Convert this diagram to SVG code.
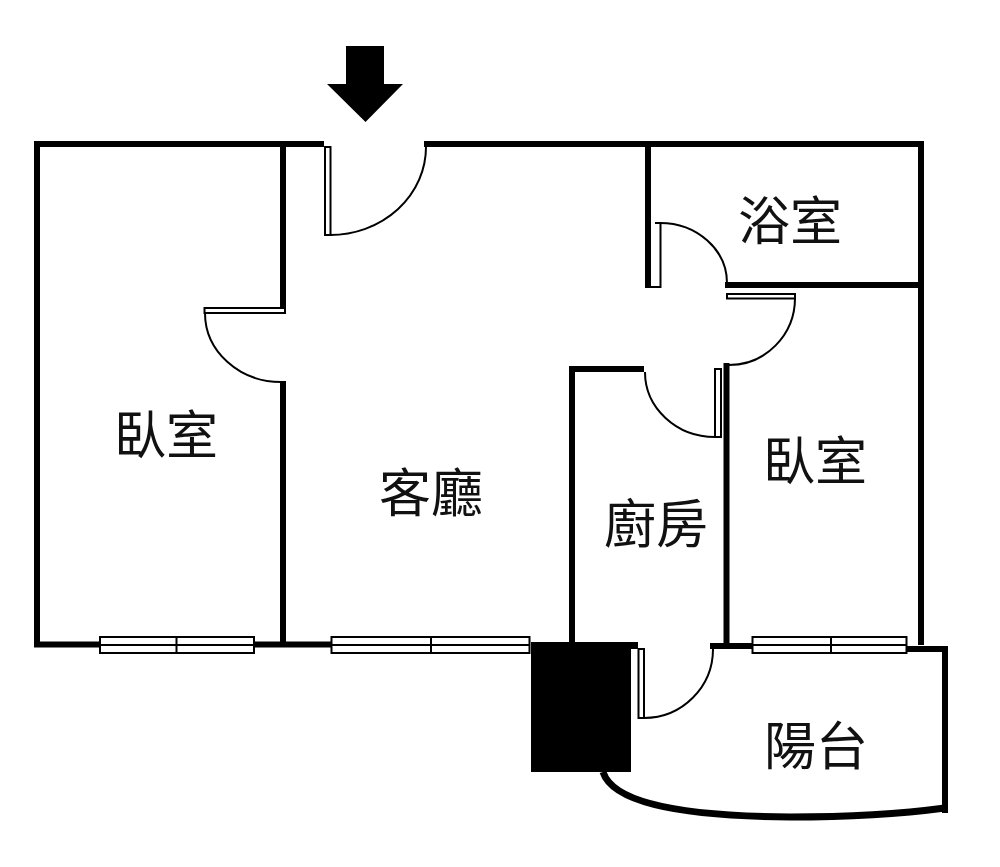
<svg xmlns="http://www.w3.org/2000/svg" width="1000" height="867" viewBox="0 0 1000 867">
<style>
.wall{fill:none;stroke:#000;stroke-width:6;stroke-linecap:butt;stroke-linejoin:miter}
.win{fill:#fff;stroke:#000;stroke-width:2}
.thin{fill:none;stroke:#000;stroke-width:2}
.leaf{fill:#fff;stroke:#000;stroke-width:2}
text{font-family:"Noto Sans CJK TC","Noto Sans CJK JP",sans-serif;font-size:52px;font-weight:400;fill:#111;text-anchor:middle;dominant-baseline:central}
</style>
<rect width="1000" height="867" fill="#fff"/>
<polygon id="entry-arrow" points="346,46 384,46 384,84 403,84 365.5,122 327,84 346,84"/>
<g id="walls">
<path class="wall" d="M324,144H37V644.500H99M254,644.500H331"/>
<path class="wall" d="M283,144V310M283,381V644"/>
<path class="wall" d="M424,144H921V645"/>
<path class="wall" d="M648,144V288"/>
<path class="wall" d="M725,285H921"/>
<path class="wall" d="M726.500,363V645"/>
<path class="wall" d="M644,369H572V645"/>
<path class="wall" d="M710,646H752M907,649H945V813"/>
<rect x="531" y="643" width="100" height="129"/>
<rect x="531" y="642" width="107" height="7"/>
<path d="M603,772C612,800 670,816 790,817C850,817 900,814 945,808" fill="none" stroke="#000" stroke-width="7"/>
</g>
<g id="doors">
<rect class="leaf" x="325" y="147" width="5.500" height="88"/>
<path class="thin" d="M330,235A96,88 0 0 0 426,147"/>
<path class="leaf" d="M204.500,308H285V313H204.500Z"/>
<path class="thin" d="M205,313A76,69 0 0 0 281,382"/>
<path class="leaf" d="M655,223H660.500V287H651"/>
<path class="thin" d="M660,223A67,60 0 0 1 727,283"/>
<path class="leaf" d="M727,294H795V298.500H727Z"/>
<path class="thin" d="M795,298A66,67 0 0 1 729,365"/>
<rect class="leaf" x="715" y="369" width="6" height="68"/>
<path class="thin" d="M715,437A70,65 0 0 1 645,372"/>
<rect class="leaf" x="638.500" y="649" width="5.500" height="69"/>
<path class="thin" d="M644,718A69,69 0 0 0 713,649"/>
</g>
<g id="windows">
<rect class="win" x="100" y="637" width="154" height="16"/><path class="thin" d="M100,645H254M176.500,637V653"/>
<rect class="win" x="331.500" y="637" width="198" height="16"/><path class="thin" d="M331.500,645H529.500M431,637V653"/>
<rect class="win" x="752.500" y="637" width="154" height="16"/><path class="thin" d="M752.500,645H906.500M831,637V653"/>
</g>
<g id="labels">
<text x="166" y="431">臥室</text>
<text x="431" y="489">客廳</text>
<text x="656" y="520">廚房</text>
<text x="815" y="457">臥室</text>
<text x="790" y="217">浴室</text>
<text x="816" y="742">陽台</text>
</g>
</svg>
